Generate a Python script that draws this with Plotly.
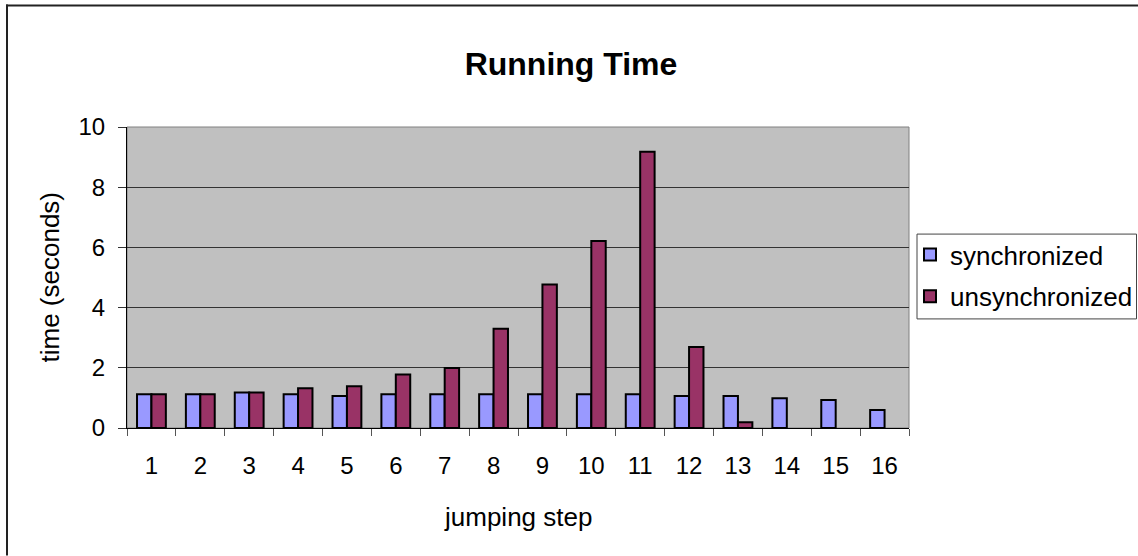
import plotly.graph_objects as go

steps = [str(i) for i in range(1, 17)]
synchronized = [1.12, 1.12, 1.18, 1.12, 1.06, 1.12, 1.12, 1.12, 1.12, 1.12, 1.12, 1.06, 1.06, 0.99, 0.93, 0.60]
unsynchronized = [1.12, 1.12, 1.18, 1.32, 1.39, 1.78, 1.99, 3.30, 4.77, 6.21, 9.18, 2.69, 0.19, None, None, None]
y_ticks = [0, 2, 4, 6, 8, 10]

FONT = "Liberation Sans, Arial, sans-serif"
W, H = 1138, 556
L, R, T, B = 127, 909, 126.7, 428.3

fig = go.Figure()
fig.add_trace(go.Bar(x=steps, y=synchronized, name="synchronized",
                     marker=dict(color="#9999FF", line=dict(color="black", width=2)),
                     legendgroup="a"))
fig.add_trace(go.Bar(x=steps, y=unsynchronized, name="unsynchronized",
                     marker=dict(color="#993366", line=dict(color="black", width=2)),
                     legendgroup="b"))

def px_x(p):
    return (p - L) / (R - L)

def px_y(p):
    return (B - p) / (B - T)

fig.update_layout(
    width=W, height=H,
    margin=dict(l=L, r=W - R, t=T, b=H - B, pad=0, autoexpand=False),
    paper_bgcolor="white",
    plot_bgcolor="#C0C0C0",
    barmode="group", bargap=0.41, bargroupgap=0,
    font=dict(family=FONT, color="black", size=24),
    title=dict(text="<b>Running Time</b>", x=571 / W, xanchor="center",
               y=1 - 64 / H, yanchor="middle", yref="container", xref="container",
               font=dict(family=FONT, size=32, color="black")),
    showlegend=True,
    legend=dict(x=910 / W, y=1 - 231 / H, xref="container", yref="container",
                xanchor="left", yanchor="top",
                bgcolor="rgba(0,0,0,0)", borderwidth=0,
                font=dict(family=FONT, size=26, color="black"),
                traceorder="grouped", tracegroupgap=5, itemwidth=30),
    xaxis=dict(type="category", tickson="boundaries", ticks="outside", ticklen=7,
               tickcolor="#555555", showgrid=False, showline=True, linecolor="black", linewidth=1,
               tickfont=dict(size=24), ticklabelstandoff=16, zeroline=False, automargin=False),
    yaxis=dict(range=[0, 10], tickvals=y_ticks, ticks="outside", ticklen=8, tickcolor="#333333",
               showgrid=True, gridcolor="#333333", gridwidth=1,
               showline=True, linecolor="black", linewidth=1,
               tickfont=dict(size=24), ticklabelstandoff=8, zeroline=False, automargin=False),
    shapes=[
        dict(type="rect", xref="paper", yref="paper", x0=0, x1=1, y0=0, y1=1,
             line=dict(color="#808080", width=1), layer="below"),
        # outer chart frame (right and bottom sides lie outside the view)
        dict(type="line", xref="paper", yref="paper", x0=px_x(6), x1=px_x(1138),
             y0=px_y(5), y1=px_y(5), line=dict(color="#222222", width=2)),
        dict(type="line", xref="paper", yref="paper", x0=px_x(7), x1=px_x(7),
             y0=px_y(4), y1=px_y(556), line=dict(color="#222222", width=2)),
        # legend box
        dict(type="rect", xref="paper", yref="paper", x0=px_x(917), x1=px_x(1136.5),
             y0=px_y(234), y1=px_y(319), line=dict(color="#444444", width=1),
             fillcolor="white", layer="below"),
    ],
    annotations=[
        dict(text="time (seconds)", xref="paper", yref="paper", x=px_x(49), y=0.5,
             textangle=-90, showarrow=False, xanchor="center", yanchor="middle",
             font=dict(family=FONT, size=26, color="black")),
        dict(text="jumping step", xref="paper", yref="paper", x=0.5, y=px_y(517),
             showarrow=False, xanchor="center", yanchor="middle",
             font=dict(family=FONT, size=26, color="black")),
    ],
)

fig.write_html("out.html",
               config={"displayModeBar": False, "responsive": False},
               post_script="document.body.style.margin='0';document.body.style.overflow='hidden';")
